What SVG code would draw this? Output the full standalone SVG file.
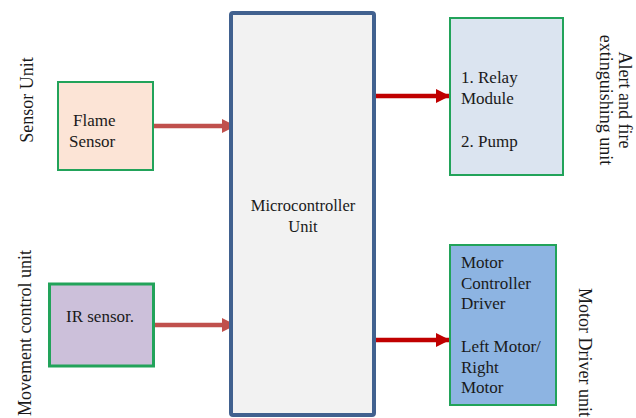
<svg xmlns="http://www.w3.org/2000/svg" width="636" height="418" viewBox="0 0 636 418">
<style>
text{font-family:"Liberation Serif","Times New Roman",serif;fill:#1a1a1a}
.t{font-family:"Liberation Serif","Times New Roman",serif;font-size:17px}
.side{font-family:"Liberation Serif","Times New Roman",serif;font-size:18px}
.box{stroke:#22a35a}
.in{stroke:#c0504d;stroke-width:4.5;fill:none}
.out{stroke:#c00000;stroke-width:4.5;fill:none}
</style>
<defs>
<marker id="ahIn" viewBox="0 0 14 14" refX="14" refY="7" markerWidth="14" markerHeight="14" markerUnits="userSpaceOnUse" orient="auto"><path d="M0,0 L14,7 L0,14 Z" fill="#c0504d"/></marker>
<marker id="ahOut" viewBox="0 0 14 14" refX="14" refY="7" markerWidth="14" markerHeight="14" markerUnits="userSpaceOnUse" orient="auto"><path d="M0,0 L14,7 L0,14 Z" fill="#c00000"/></marker>
</defs>
<rect width="636" height="418" fill="#ffffff"/>
<g id="labels">
<text class="side" transform="translate(33,100) rotate(-90)" text-anchor="middle">Sensor Unit</text>
<text class="side" transform="translate(31,250) rotate(-90)" text-anchor="end">Movement control unit</text>
<text class="side" transform="translate(619,100) rotate(90)" text-anchor="middle">Alert and fire</text>
<text class="side" transform="translate(600,100) rotate(90)" text-anchor="middle">extinguishing unit</text>
<text class="side" transform="translate(579,288) rotate(90)">Motor Driver unit</text>
</g>
<g id="connectors">
<line class="in" x1="153" y1="126" x2="236" y2="126" marker-end="url(#ahIn)"/>
<line class="in" x1="155" y1="325" x2="236" y2="325" marker-end="url(#ahIn)"/>
<line class="out" x1="376" y1="96" x2="450" y2="96" marker-end="url(#ahOut)"/>
<line class="out" x1="376" y1="340" x2="450" y2="340" marker-end="url(#ahOut)"/>
</g>
<g id="flame">
<rect class="box" x="58" y="82" width="95" height="88" fill="#fce4d6" stroke-width="2"/>
<text class="t" x="73" y="126">Flame</text>
<text class="t" x="69" y="147">Sensor</text>
</g>
<g id="ir">
<rect class="box" x="49.5" y="284" width="104" height="82" fill="#ccc0da" stroke-width="3"/>
<text class="t" x="66" y="322">IR sensor.</text>
</g>
<g id="mcu">
<rect x="231" y="13" width="143" height="402" rx="2" fill="#f2f2f2" stroke="#41618f" stroke-width="4"/>
<text class="t" x="303" y="211" text-anchor="middle" style="font-size:16.5px">Microcontroller</text>
<text class="t" x="303" y="232" text-anchor="middle" style="font-size:16.5px">Unit</text>
</g>
<g id="relay">
<rect class="box" x="450" y="18" width="113" height="157" fill="#dbe4f0" stroke-width="2"/>
<text class="t" x="461" y="83">1. Relay</text>
<text class="t" x="461" y="104">Module</text>
<text class="t" x="461" y="147">2. Pump</text>
</g>
<g id="motor">
<rect class="box" x="450" y="245" width="106" height="160" fill="#8db4e2" stroke-width="2"/>
<text class="t" x="461" y="268">Motor</text>
<text class="t" x="461" y="289">Controller</text>
<text class="t" x="461" y="309">Driver</text>
<text class="t" x="461" y="352">Left Motor/</text>
<text class="t" x="461" y="373">Right</text>
<text class="t" x="461" y="393">Motor</text>
</g>
</svg>
